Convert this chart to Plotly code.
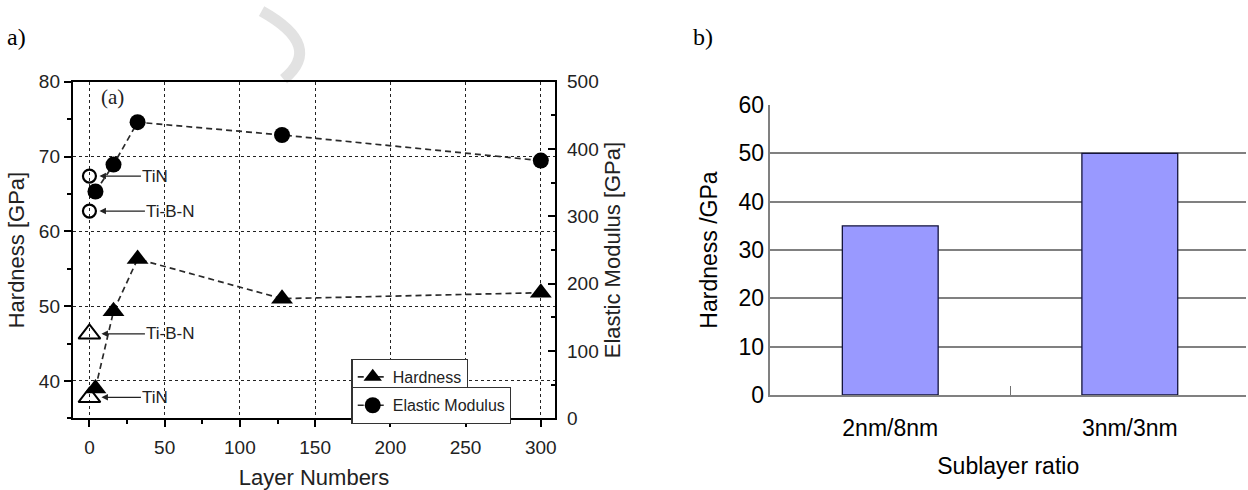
import plotly.graph_objects as go

# ---------------- data ----------------
layers = [4, 16, 32, 128, 300]
hardness = [39.0, 49.3, 56.3, 51.0, 51.8]
modulus = [337, 377, 440, 421, 383]

ref_x = [0, 0]
ref_hardness = [37.8, 46.3]          # TiN, Ti-B-N
ref_modulus = [360, 308]             # TiN, Ti-B-N
ref_labels = ["TiN", "Ti-B-N"]

ratio_cats = ["2nm/8nm", "3nm/3nm"]
ratio_hardness = [35, 50]

W, H = 1248, 490
SANS = "Liberation Sans, Arial, sans-serif"
SERIF = "Liberation Serif, Times New Roman, serif"


def px_x(p):
    return p / W


def px_y(p):
    return 1 - p / H


fig = go.Figure()

# ---- left chart: hardness (triangles) ----
fig.add_trace(go.Scatter(
    x=layers, y=hardness, name="Hardness", mode="lines+markers",
    line=dict(color="#2a2a2a", width=1.7, dash="6px,4px"),
    marker=dict(symbol="triangle-up", size=19, color="black"),
    xaxis="x", yaxis="y", legend="legend"))
fig.add_trace(go.Scatter(
    x=layers, y=modulus, name="Elastic Modulus", mode="lines+markers",
    line=dict(color="#2a2a2a", width=1.7, dash="6px,4px"),
    marker=dict(symbol="circle", size=16, color="black"),
    xaxis="x", yaxis="y2", legend="legend2"))
fig.add_trace(go.Scatter(
    x=ref_x, y=ref_hardness, mode="markers", showlegend=False,
    marker=dict(symbol="triangle-up-open", size=19, color="black",
                line=dict(width=2, color="black")),
    xaxis="x", yaxis="y"))
fig.add_trace(go.Scatter(
    x=ref_x, y=ref_modulus, mode="markers", showlegend=False,
    marker=dict(symbol="circle-open", size=13, color="black",
                line=dict(width=2.2, color="black")),
    xaxis="x", yaxis="y2"))

# ---- right chart: bars ----
fig.add_trace(go.Bar(
    x=ratio_cats, y=ratio_hardness, width=0.4, showlegend=False,
    marker=dict(color="#9999FF", line=dict(color="#14143c", width=1.3)),
    xaxis="x2", yaxis="y3"))

annotations = []
for lbl, yv in zip(ref_labels, ref_modulus):
    annotations.append(dict(
        x=0, y=yv, xref="x", yref="y2", text=lbl, showarrow=True,
        ax=66 + (len(lbl) - 3) * 5, ay=0, arrowhead=2, arrowsize=1, arrowwidth=1.3,
        arrowcolor="#222", standoff=10, font=dict(family=SANS, size=17, color="#222")))
for lbl, yv in zip(ref_labels, ref_hardness):
    annotations.append(dict(
        x=0, y=yv, xref="x", yref="y", text=lbl, showarrow=True,
        ax=66 + (len(lbl) - 3) * 5, ay=0, arrowhead=2, arrowsize=1, arrowwidth=1.3,
        arrowcolor="#222", standoff=12, font=dict(family=SANS, size=17, color="#222")))
annotations += [
    dict(x=px_x(99), y=px_y(89), xref="paper", yref="paper", text="(a)",
         showarrow=False, xanchor="left", yanchor="middle",
         font=dict(family=SERIF, size=21, color="#222")),
    dict(x=px_x(5), y=px_y(25), xref="paper", yref="paper", text="a)",
         showarrow=False, xanchor="left", yanchor="middle",
         font=dict(family=SERIF, size=24, color="black")),
    dict(x=px_x(692), y=px_y(25), xref="paper", yref="paper", text="b)",
         showarrow=False, xanchor="left", yanchor="middle",
         font=dict(family=SERIF, size=24, color="black")),
]

left_axis_common = dict(showline=True, linecolor="black", linewidth=2.2,
                        tickfont=dict(family=SANS, size=19, color="#222"),
                        ticklen=7, tickwidth=1.6, tickcolor="black")

fig.update_layout(
    width=W, height=H, margin=dict(l=0, r=0, t=0, b=0),
    paper_bgcolor="white", plot_bgcolor="rgba(0,0,0,0)",
    showlegend=True,
    xaxis=dict(domain=[px_x(73), px_x(556)], range=[-11, 309.5], anchor="y",
               tickvals=[0, 50, 100, 150, 200, 250, 300], ticks="outside", mirror=True,
               showgrid=True, gridcolor="#222", gridwidth=1.3, griddash="dot",
               zeroline=False, ticklabelstandoff=4,
               minor=dict(dtick=25, tick0=0, ticks="outside", ticklen=4, tickcolor="black", showgrid=False),
               title=dict(text="Layer Numbers", font=dict(family=SANS, size=22, color="#222"), standoff=12),
               **left_axis_common),
    yaxis=dict(domain=[px_y(428), px_y(72.7)], range=[35, 80], anchor="x",
               tickvals=[40, 50, 60, 70, 80], ticks="outside",
               showgrid=True, gridcolor="#222", gridwidth=1.3, griddash="dot",
               zeroline=False,
               minor=dict(dtick=5, tick0=0, ticks="outside", ticklen=4, tickcolor="black", showgrid=False),
               title=dict(text="Hardness [GPa]", font=dict(family=SANS, size=22, color="#222"), standoff=8),
               **left_axis_common),
    yaxis2=dict(range=[0, 500], overlaying="y", side="right", anchor="x",
                tickvals=[0, 100, 200, 300, 400, 500], ticks="inside",
                showgrid=False, zeroline=False, ticklabelstandoff=6,
                minor=dict(dtick=50, tick0=0, ticks="inside", ticklen=4, tickcolor="black"),
                title=dict(text="Elastic Modulus [GPa]", font=dict(family=SANS, size=22, color="#222"), standoff=7),
                **left_axis_common),
    xaxis2=dict(domain=[px_x(771.7), 1.0], range=[-0.5, 1.485], anchor="y3",
                type="category", tickson="boundaries", ticks="inside", ticklen=9,
                tickcolor="#707070", tickwidth=1.2,
                showline=True, linecolor="#808080", linewidth=1.6, showgrid=False,
                ticklabelstandoff=12,
                tickfont=dict(family=SANS, size=23, color="black"),
                title=dict(text="Sublayer ratio", font=dict(family=SANS, size=23, color="black"), standoff=18)),
    yaxis3=dict(domain=[px_y(403.3), px_y(97.3)], range=[0, 60], anchor="x2",
                tickvals=[0, 10, 20, 30, 40, 50, 60], ticks="",
                showline=True, linecolor="#808080", linewidth=1.6,
                showgrid=True, gridcolor="#808080", gridwidth=1.6, zeroline=False,
                tickfont=dict(family=SANS, size=23, color="black"),
                title=dict(text="Hardness /GPa", font=dict(family=SANS, size=23, color="black"), standoff=14)),
    legend=dict(x=px_x(352), y=px_y(365), xanchor="left", yanchor="top",
                bgcolor="white", bordercolor="#333", borderwidth=1.3,
                font=dict(family=SANS, size=16, color="#222")),
    legend2=dict(x=px_x(352), y=px_y(395), xanchor="left", yanchor="top",
                 bgcolor="white", bordercolor="#333", borderwidth=1.3,
                 font=dict(family=SANS, size=16, color="#222")),
    annotations=annotations,
    shapes=[dict(type="path", xref="paper", yref="paper",
                 path=f"M {px_x(262)},{px_y(-2)} Q {px_x(325)},{px_y(35)} {px_x(284)},{px_y(70)}",
                 line=dict(color="#e2e2e2", width=11), layer="below")],
)

fig.write_html("out.html")
